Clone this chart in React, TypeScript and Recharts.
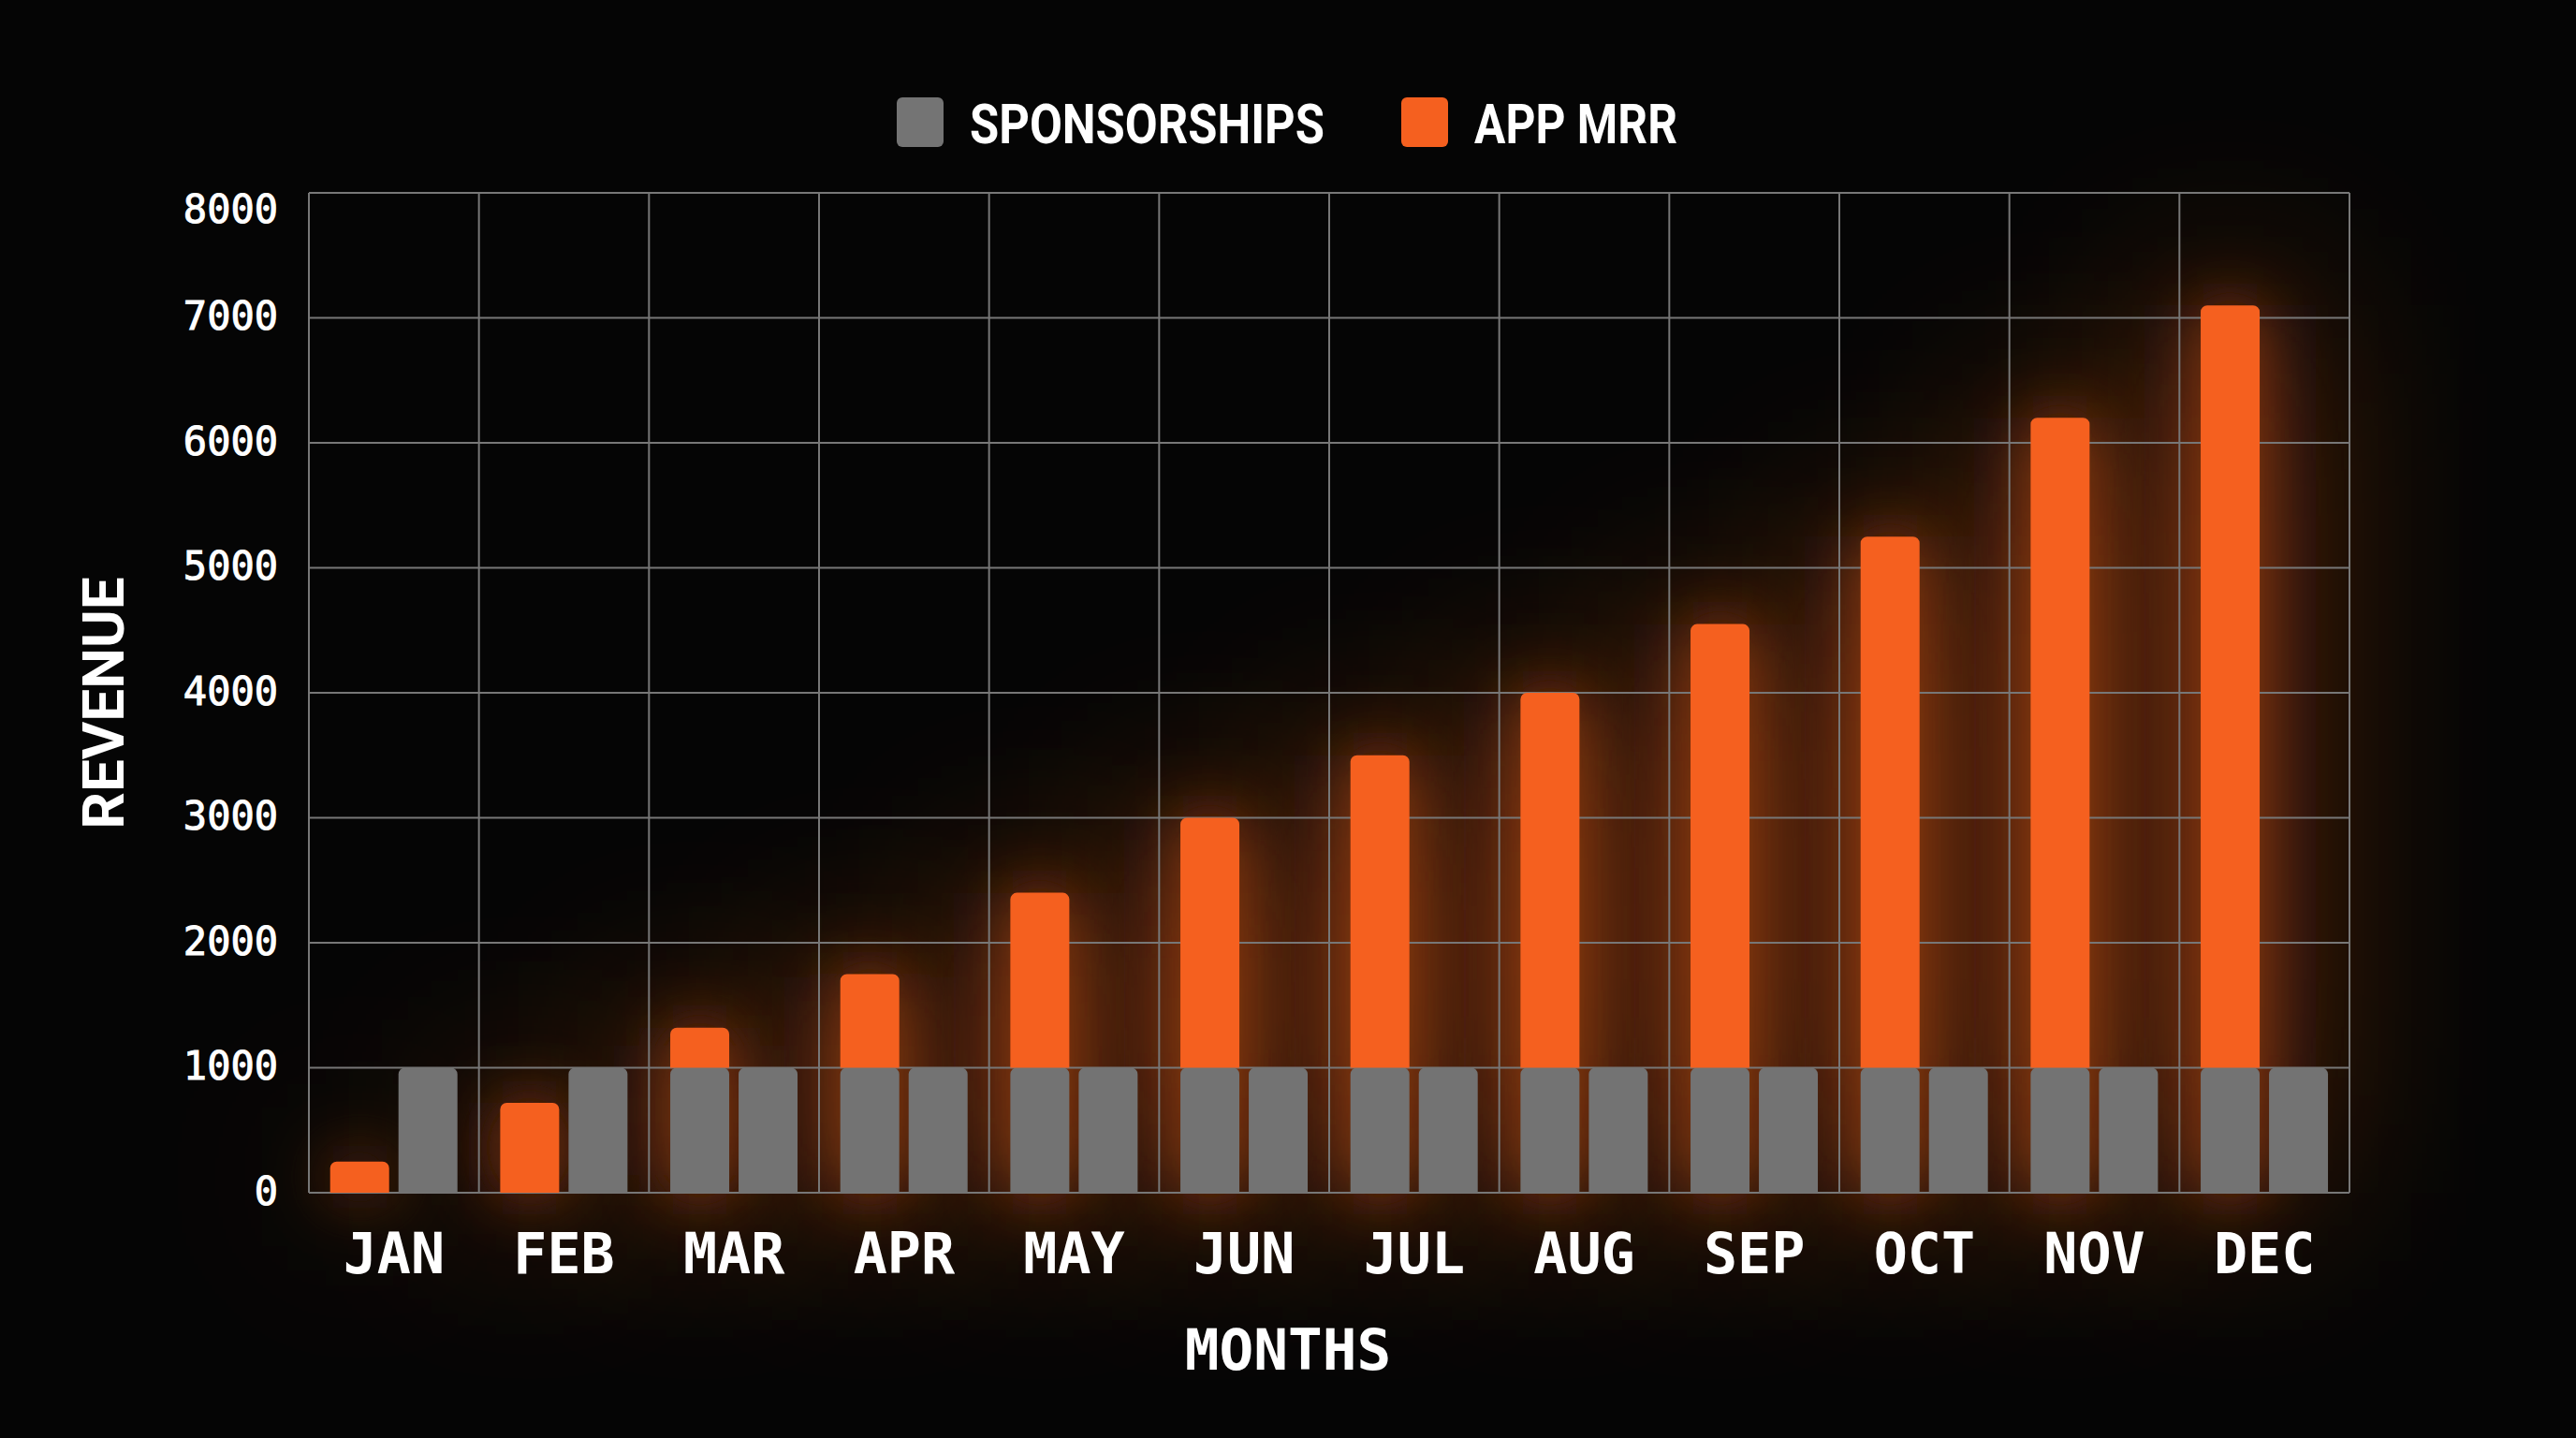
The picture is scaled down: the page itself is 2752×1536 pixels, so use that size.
import { BarChart, Bar, XAxis, YAxis, CartesianGrid, Legend, Label } from "recharts"

const months = ["JAN", "FEB", "MAR", "APR", "MAY", "JUN", "JUL", "AUG", "SEP", "OCT", "NOV", "DEC"]
const appMrr = [250, 720, 1320, 1750, 2400, 3000, 3500, 4000, 4550, 5250, 6200, 7100]
const sponsorships = [1000, 1000, 1000, 1000, 1000, 1000, 1000, 1000, 1000, 1000, 1000, 1000]
const yTicks = [0, 1000, 2000, 3000, 4000, 5000, 6000, 7000, 8000]
const legendItems = [
  { name: "SPONSORSHIPS", color: "#747474" },
  { name: "APP MRR", color: "#F5601F" },
]

const W = 2752
const H = 1536
const ORANGE = "#F5601F"
const GRAY = "#737373"
const GRID = "#777777"

// the sponsorship slice is drawn in grey under the app bar once the bar passes it
const data = months.map((month, i) => {
  const base = appMrr[i] > sponsorships[i] ? sponsorships[i] : 0
  return {
    month,
    app: appMrr[i],
    appBase: base,
    appTop: appMrr[i] - base,
    sponsorships: sponsorships[i],
  }
})

const legendTextWidth: Record<string, number> = { SPONSORSHIPS: 379, "APP MRR": 217 }

function LegendContent({ hidden }: { hidden?: boolean }) {
  let x = 958
  const parts = legendItems.map((item) => {
    const sx = x
    const tw = legendTextWidth[item.name]
    x = sx + 50 + 28 + tw + 82
    return (
      <g key={item.name}>
        <rect x={sx} y={14} width={50} height={53} rx={6} fill={item.color} />
        <text
          x={sx + 78}
          y={63}
          textLength={tw}
          lengthAdjust="spacingAndGlyphs"
          fill="#ffffff"
          fontFamily="Roboto"
          fontWeight={700}
          fontSize={60}
        >
          {item.name}
        </text>
      </g>
    )
  })
  return (
    <svg width={W} height={116} style={{ display: "block", visibility: hidden ? "hidden" : "visible" }}>
      {parts}
    </svg>
  )
}

function YTick(props: any) {
  const { x, y, payload } = props
  return (
    <text
      x={x}
      y={y + (payload.value === 8000 ? 19 : 0)}
      dy="0.3em"
      textAnchor="end"
      fill="#ffffff"
      stroke="#ffffff"
      strokeWidth={1}
      fontFamily="DejaVu Sans Mono"
      fontSize={42}
    >
      {payload.value}
    </text>
  )
}

function RevenueLabel(props: any) {
  const vb = props.viewBox
  const cx = vb.x + 60
  const cy = vb.y + vb.height / 2 + 11
  return (
    <text
      x={cx}
      y={cy}
      transform={`rotate(-90 ${cx} ${cy})`}
      textAnchor="middle"
      dominantBaseline="central"
      fill="#ffffff"
      fontFamily="Roboto"
      fontWeight={700}
      fontSize={62}
    >
      REVENUE
    </text>
  )
}

function MonthsLabel(props: any) {
  const vb = props.viewBox
  return (
    <text
      x={vb.x + vb.width / 2 - 44}
      y={vb.y + 189}
      textAnchor="middle"
      fill="#ffffff"
      fontFamily="DejaVu Sans Mono"
      fontWeight={700}
      fontSize={61}
    >
      MONTHS
    </text>
  )
}

const GlowBar = (p: any) => (
  <rect x={p.x} y={p.y} width={p.width} height={p.height} fill={ORANGE} filter="url(#barGlow)" />
)

function RevenueChart({ glow }: { glow?: boolean }) {
  return (
    <BarChart
      width={W}
      height={H}
      data={data}
      margin={{ top: 90, right: 242, bottom: 40, left: 50 }}
      barCategoryGap="12.5%"
      barGap={10}
    >
      <Legend
        verticalAlign="top"
        wrapperStyle={{ left: 0, top: 90, width: W, height: 116 }}
        content={() => <LegendContent hidden={glow} />}
      />
      {!glow && (
        <CartesianGrid
          stroke={GRID}
          strokeWidth={2}
          verticalCoordinatesGenerator={({ offset }: any) =>
            months.map((_, i) => offset.left + (i * offset.width) / months.length).concat(offset.left + offset.width)
          }
        />
      )}
      <XAxis
        dataKey="month"
        interval={0}
        height={222}
        tickLine={false}
        axisLine={false}
        tickSize={0}
        tickMargin={43}
        tick={glow ? false : { fill: "#ffffff", fontFamily: "DejaVu Sans Mono", fontWeight: 700, fontSize: 60 }}
      >
        {!glow && <Label content={MonthsLabel} />}
      </XAxis>
      <YAxis
        domain={[0, 8000]}
        ticks={yTicks}
        interval={0}
        width={280}
        tickLine={false}
        axisLine={false}
        tickSize={0}
        tickMargin={33}
        tick={glow ? false : YTick}
      >
        {!glow && <Label content={RevenueLabel} />}
      </YAxis>
      {glow ? (
        <Bar dataKey="app" fill={ORANGE} shape={GlowBar} isAnimationActive={false} />
      ) : (
        <>
          <Bar dataKey="appBase" stackId="app" fill={GRAY} radius={[7, 7, 0, 0]} isAnimationActive={false} />
          <Bar dataKey="appTop" stackId="app" fill={ORANGE} radius={[7, 7, 0, 0]} isAnimationActive={false} />
        </>
      )}
      <Bar
        dataKey="sponsorships"
        fill={glow ? "transparent" : GRAY}
        radius={[7, 7, 0, 0]}
        isAnimationActive={false}
      />
    </BarChart>
  )
}

export default function App() {
  return (
    <div style={{ position: "absolute", left: 0, top: 0, width: W, height: H, background: "#050505", overflow: "hidden" }}>
      <svg width={0} height={0} style={{ position: "absolute" }}>
        <defs>
          <filter id="barGlow" filterUnits="userSpaceOnUse" x={0} y={0} width={W} height={H}>
            <feGaussianBlur in="SourceGraphic" stdDeviation={35} result="b1" />
            <feGaussianBlur in="SourceGraphic" stdDeviation={110} result="b2" />
            <feComponentTransfer in="b1" result="c1">
              <feFuncA type="linear" slope={0.55} />
            </feComponentTransfer>
            <feComponentTransfer in="b2" result="c2">
              <feFuncA type="linear" slope={0.9} />
            </feComponentTransfer>
            <feMerge>
              <feMergeNode in="c2" />
              <feMergeNode in="c1" />
            </feMerge>
          </filter>
        </defs>
      </svg>
      <div style={{ position: "absolute", left: 0, top: 0 }}>
        <RevenueChart glow />
      </div>
      <div style={{ position: "absolute", left: 0, top: 0 }}>
        <RevenueChart />
      </div>
    </div>
  )
}
